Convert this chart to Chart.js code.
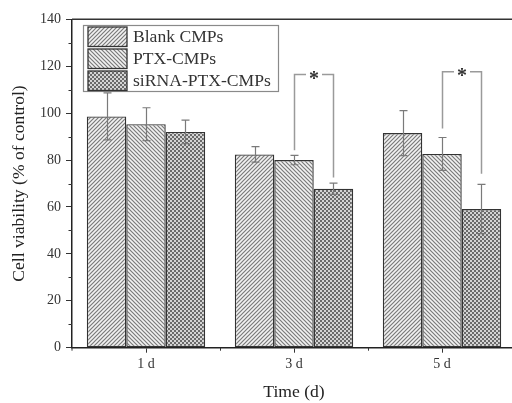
<!DOCTYPE html>
<html>
<head>
<meta charset="utf-8">
<script src="https://cdn.jsdelivr.net/npm/chart.js@4.4.0/dist/chart.umd.min.js"></script>
<style>
  html, body { margin: 0; padding: 0; background: #fff; overflow: hidden; }
  #wrap { width: 512px; height: 403px; overflow: hidden; }
</style>
</head>
<body>
<div id="wrap"><canvas id="myChart" width="525" height="403"></canvas></div>
<script>
var categories = ['1 d', '3 d', '5 d'];
var seriesNames = ['Blank CMPs', 'PTX-CMPs', 'siRNA-PTX-CMPs'];
var blank = [98.6, 82.4, 91.5];
var blankErr = [10, 3.3, 9.6];
var ptx = [95.3, 80.0, 82.6];
var ptxErr = [7, 2, 7];
var sirna = [92.0, 67.8, 59.1];
var sirnaErr = [5, 2.4, 10.5];
var yTicks = [0, 20, 40, 60, 80, 100, 120, 140];
// significance: [category, left series, right series, left foot, right foot, top]
var sigPairs = [
  [1, 1, 2, 84.2, 72.6, 116.5],
  [2, 1, 2, 93.5, 74.2, 117.6]
];

var serif = 'Liberation Serif';

function makePattern(kind) {
  var c = document.createElement('canvas');
  c.width = 4; c.height = 4;
  var g = c.getContext('2d');
  if (kind === 'check') {
    g.fillStyle = '#d4d4d4';
    g.fillRect(0, 0, 4, 4);
    g.fillStyle = '#6a6a6a';
    g.fillRect(0, 0, 2, 2);
    g.fillRect(2, 2, 2, 2);
  } else {
    g.fillStyle = '#f2f2f2';
    g.fillRect(0, 0, 4, 4);
    g.strokeStyle = '#7a7a7a';
    g.lineWidth = 1.2;
    g.beginPath();
    if (kind === 'fwd') {
      g.moveTo(-1, 5); g.lineTo(5, -1);
      g.moveTo(-1, 1); g.lineTo(1, -1);
      g.moveTo(3, 5); g.lineTo(5, 3);
    } else {
      g.moveTo(-1, -1); g.lineTo(5, 5);
      g.moveTo(3, -1); g.lineTo(5, 1);
      g.moveTo(-1, 3); g.lineTo(1, 5);
    }
    g.stroke();
  }
  return g.createPattern(c, 'repeat');
}

var patterns = [makePattern('fwd'), makePattern('back'), makePattern('check')];
var errs = [blankErr, ptxErr, sirnaErr];

var extras = {
  id: 'extras',
  afterDatasetsDraw: function (chart) {
    var ctx = chart.ctx;
    var y = chart.scales.y, x = chart.scales.x;
    var area = chart.chartArea;
    ctx.save();

    // top frame line
    ctx.strokeStyle = '#333';
    ctx.lineWidth = 1.5;
    ctx.beginPath();
    ctx.moveTo(area.left, area.top);
    ctx.lineTo(area.right + 10, area.top);
    ctx.stroke();

    // minor ticks
    ctx.lineWidth = 1;
    ctx.beginPath();
    for (var v = 10; v < 140; v += 20) {
      var py = Math.round(y.getPixelForValue(v)) + 0.5;
      ctx.moveTo(area.left - 3.5, py);
      ctx.lineTo(area.left, py);
    }
    for (var k = 1; k < categories.length; k++) {
      var px = Math.round((x.getPixelForValue(k - 1) + x.getPixelForValue(k)) / 2) + 0.5;
      ctx.moveTo(px, area.bottom);
      ctx.lineTo(px, area.bottom + 3);
    }
    ctx.moveTo(area.left, area.bottom);
    ctx.lineTo(area.left, area.bottom + 3);
    ctx.stroke();

    // error bars
    ctx.strokeStyle = '#7a7a7a';
    ctx.lineWidth = 1.2;
    chart.data.datasets.forEach(function (ds, i) {
      var meta = chart.getDatasetMeta(i);
      meta.data.forEach(function (bar, j) {
        var v = ds.data[j], e = errs[i][j];
        var top = y.getPixelForValue(v + e), bot = y.getPixelForValue(v - e);
        var cx = Math.round(bar.x) + 0.5;
        ctx.beginPath();
        ctx.moveTo(cx, top); ctx.lineTo(cx, bot);
        ctx.moveTo(cx - 4, top); ctx.lineTo(cx + 4, top);
        ctx.moveTo(cx - 4, bot); ctx.lineTo(cx + 4, bot);
        ctx.stroke();
      });
    });

    // significance brackets
    sigPairs.forEach(function (s) {
      var lx = Math.round(chart.getDatasetMeta(s[1]).data[s[0]].x) + 0.5;
      var rx = Math.round(chart.getDatasetMeta(s[2]).data[s[0]].x) + 0.5;
      var ty = y.getPixelForValue(s[5]);
      var mx = (lx + rx) / 2;
      ctx.strokeStyle = '#9a9a9a';
      ctx.lineWidth = 1.5;
      ctx.beginPath();
      ctx.moveTo(lx, y.getPixelForValue(s[3]));
      ctx.lineTo(lx, ty);
      ctx.lineTo(mx - 8, ty);
      ctx.moveTo(mx + 8, ty);
      ctx.lineTo(rx, ty);
      ctx.lineTo(rx, y.getPixelForValue(s[4]));
      ctx.stroke();
      ctx.fillStyle = '#333';
      ctx.font = 'bold 20px ' + serif;
      ctx.textAlign = 'center';
      ctx.textBaseline = 'middle';
      ctx.fillText('*', mx, ty + 5);
    });

    // legend
    var lx0 = 83, ly0 = 25;
    ctx.fillStyle = '#fff';
    ctx.fillRect(lx0, ly0, 195, 66);
    ctx.strokeStyle = '#8a8a8a';
    ctx.lineWidth = 1.2;
    ctx.strokeRect(lx0 + 0.5, ly0 + 0.5, 195, 66);
    seriesNames.forEach(function (name, i) {
      var sy = 27 + i * 22;
      ctx.fillStyle = patterns[i];
      ctx.fillRect(88, sy, 39, 19.5);
      ctx.strokeStyle = '#333';
      ctx.lineWidth = 1.3;
      ctx.strokeRect(88, sy, 39, 19.5);
      ctx.fillStyle = '#333';
      ctx.font = '17.6px ' + serif;
      ctx.textAlign = 'left';
      ctx.textBaseline = 'middle';
      ctx.fillText(name, 133, sy + 10.5);
    });
    ctx.restore();
  }
};

var ctx = document.getElementById('myChart').getContext('2d');
var myChart = new Chart(ctx, {
  type: 'bar',
  data: {
    labels: categories,
    datasets: [
      { label: seriesNames[0], data: blank, backgroundColor: patterns[0] },
      { label: seriesNames[1], data: ptx, backgroundColor: patterns[1] },
      { label: seriesNames[2], data: sirna, backgroundColor: patterns[2] }
    ]
  },
  options: {
    responsive: false,
    animation: false,
    layout: { padding: { top: 19.3, right: 9, left: 0, bottom: 0 } },
    datasets: {
      bar: {
        categoryPercentage: 0.8,
        barPercentage: 1.0,
        borderColor: '#333',
        borderWidth: 1.4,
        borderSkipped: false
      }
    },
    plugins: {
      legend: { display: false },
      tooltip: { enabled: false }
    },
    scales: {
      x: {
        offset: true,
        afterFit: function (s) { s.height = 55.3; },
        grid: { offset: false, drawOnChartArea: false, drawTicks: true, tickLength: 5, color: '#333' },
        border: { display: true, color: '#222', width: 1.5 },
        ticks: { color: '#333', font: { family: serif, size: 14 }, padding: 3 },
        title: { display: true, text: 'Time (d)', color: '#222', font: { family: serif, size: 17.6 }, padding: { top: 0, bottom: 0 } }
      },
      y: {
        min: 0,
        max: 140,
        afterFit: function (s) { s.width = 72; },
        afterBuildTicks: function (s) { s.ticks = yTicks.map(function (v) { return { value: v }; }); },
        grid: { drawOnChartArea: false, drawTicks: true, tickLength: 6, color: '#333' },
        border: { display: true, color: '#222', width: 1.5 },
        ticks: { color: '#333', font: { family: serif, size: 14 }, padding: 5 },
        title: { display: true, text: 'Cell viability (% of control)', color: '#222', font: { family: serif, size: 17.6 }, padding: { top: 9, bottom: 0 } }
      }
    }
  },
  plugins: [extras]
});
</script>
</body>
</html>
